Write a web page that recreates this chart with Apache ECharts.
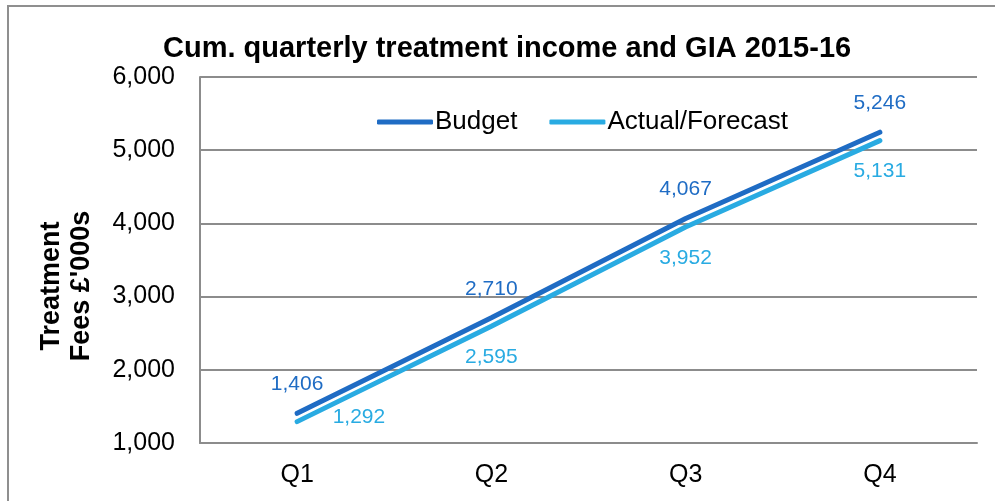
<!DOCTYPE html>
<html>
<head>
<meta charset="utf-8">
<script src="https://cdn.jsdelivr.net/npm/echarts@6/dist/echarts.min.js"></script>
<style>
  html, body { margin: 0; padding: 0; background: #fff; }
  .frame {
    position: absolute;
    left: 7px; top: 5px; right: -10px; bottom: -10px;
    border-top: 2px solid #8f8f8f;
    border-left: 2px solid #8f8f8f;
  }
  .chart {
    position: absolute;
    left: 0; top: 0;
    width: 995px; height: 501px;
  }
</style>
</head>
<body>
<div class="frame"></div>
<div class="chart" id="chart"></div>
<script>
  const quarters = ['Q1', 'Q2', 'Q3', 'Q4']
  const budget = [1406, 2710, 4067, 5246]
  const actualForecast = [1292, 2595, 3952, 5131]

  const budgetColor = '#1f6cc4'
  const actualColor = '#29abe2'
  const font = 'Liberation Sans, Arial, sans-serif'

  const fmt = v => Number(v).toLocaleString('en-US')

  let chart = echarts.init(document.getElementById('chart'))
  chart.setOption({
    animation: false,
    title: {
      text: 'Cum. quarterly treatment income and GIA 2015-16',
      left: 158,
      top: 29,
      textStyle: {fontFamily: font, fontWeight: 'bold', fontSize: 29, color: '#000'}
    },
    legend: {
      left: 372,
      top: 104,
      icon: 'roundRect',
      itemWidth: 56,
      itemHeight: 5,
      itemGap: 32,
      textStyle: {fontFamily: font, fontSize: 26, color: '#000', padding: [0, 0, 0, -3]},
      data: ['Budget', 'Actual/Forecast']
    },
    grid: {left: 200, right: 18, top: 77, bottom: 58},
    xAxis: {
      type: 'category',
      data: quarters,
      boundaryGap: true,
      axisLine: {lineStyle: {color: '#8c8c8c', width: 2}},
      axisTick: {show: false},
      axisLabel: {fontFamily: font, fontSize: 25, color: '#000', margin: 20}
    },
    yAxis: {
      type: 'value',
      min: 1000,
      max: 6000,
      interval: 1000,
      name: 'Treatment\nFees £\'000s',
      nameLocation: 'middle',
      nameRotate: 90,
      nameGap: 103,
      nameTextStyle: {
        fontFamily: font, fontWeight: 'bold', fontSize: 27, color: '#000',
        lineHeight: 30, padding: [0, 52, 0, 0]
      },
      axisLine: {show: true, lineStyle: {color: '#8c8c8c', width: 2}},
      axisTick: {show: false},
      axisLabel: {fontFamily: font, fontSize: 25, color: '#000', margin: 25, formatter: fmt},
      splitLine: {lineStyle: {color: '#8c8c8c', width: 2}}
    },
    series: [
      {
        name: 'Budget',
        type: 'line',
        data: budget,
        symbol: 'circle',
        symbolSize: 1,
        itemStyle: {color: budgetColor},
        lineStyle: {color: budgetColor, width: 5, cap: 'round'},
        label: {
          show: true, position: 'top', distance: 18,
          fontFamily: font, fontSize: 21, color: budgetColor,
          formatter: p => fmt(p.value)
        },
        z: 3
      },
      {
        name: 'Actual/Forecast',
        type: 'line',
        data: actualForecast.map((v, i) => i === 0
          ? {value: v, label: {position: 'right', distance: 35, offset: [0, -4]}}
          : v),
        symbol: 'circle',
        symbolSize: 1,
        itemStyle: {color: actualColor},
        lineStyle: {color: actualColor, width: 5, cap: 'round'},
        label: {
          show: true, position: 'bottom', distance: 20,
          fontFamily: font, fontSize: 21, color: actualColor,
          formatter: p => fmt(p.value)
        },
        z: 2
      }
    ]
  })
</script>
</body>
</html>
